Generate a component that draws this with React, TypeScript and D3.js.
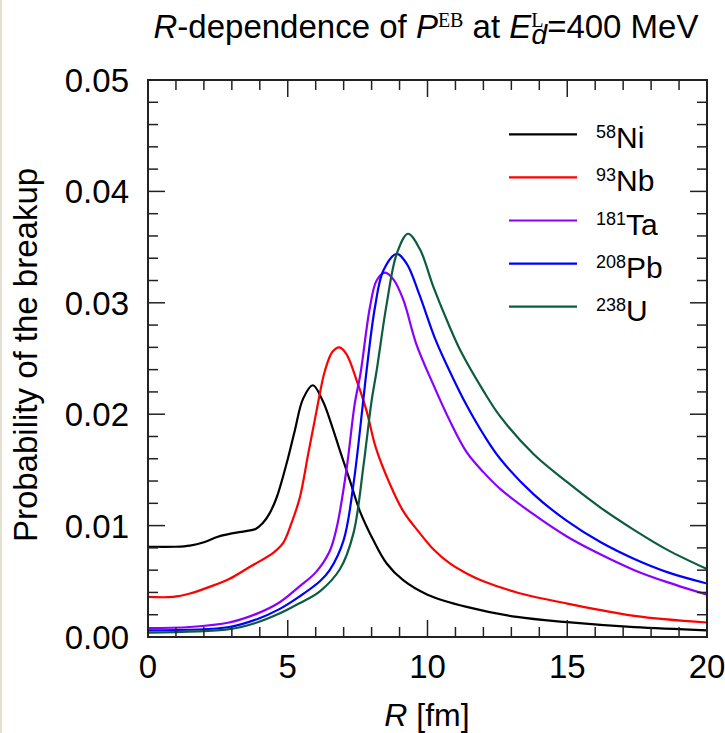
import React from 'react';
import * as d3 from 'd3';

const W = 725;
const H = 733;
const PLOT = { left: 148, right: 707, top: 80, bottom: 637 };

// ---- data ----
const rNi = [0, 1, 1.5, 2, 2.5, 3.0, 3.5, 3.85, 4.1, 4.35, 4.6, 4.95, 5.25, 5.55, 5.9, 6.25, 6.6, 6.87, 7.23, 7.58, 8.06, 8.54, 9.13, 10.0, 11.4, 13.2, 15, 17.4, 20];
const pNi = [0.0081, 0.0081, 0.0082, 0.0085, 0.0090, 0.0093, 0.0095, 0.0097, 0.0102, 0.0111, 0.0125, 0.0155, 0.0185, 0.0214, 0.0226, 0.0212, 0.0188, 0.0167, 0.0140, 0.0113, 0.0087, 0.0066, 0.0051, 0.0038, 0.0027, 0.0018, 0.00133, 0.00088, 0.0006];

const rNb = [0, 0.9, 1.5, 2.2, 2.9, 3.65, 4.5, 4.85, 5.13, 5.43, 5.73, 6.03, 6.33, 6.6, 6.85, 7.1, 7.47, 7.82, 8.15, 8.66, 9.13, 9.73, 10.2, 10.8, 11.4, 12, 13.2, 15, 17.4, 20];
const pNb = [0.0036, 0.0036, 0.0039, 0.0045, 0.0052, 0.0063, 0.0076, 0.0085, 0.0102, 0.0125, 0.0164, 0.0203, 0.0239, 0.0256, 0.0260, 0.0254, 0.0230, 0.0203, 0.0170, 0.0137, 0.0113, 0.0093, 0.0079, 0.0066, 0.0057, 0.0050, 0.0040, 0.0030, 0.0019, 0.0013];

const rTa = [0, 1.5, 2.9, 3.9, 4.7, 5.4, 6.0, 6.5, 6.75, 7.1, 7.4, 7.6, 7.94, 8.18, 8.48, 8.78, 9.13, 9.6, 10.2, 10.8, 11.4, 12.0, 12.6, 13.8, 15, 16.2, 17.4, 18.6, 20];
const pTa = [0.0008, 0.0009, 0.0013, 0.0021, 0.0031, 0.0045, 0.0058, 0.0077, 0.0098, 0.0150, 0.0210, 0.0236, 0.0296, 0.0320, 0.0327, 0.0321, 0.0303, 0.0263, 0.0227, 0.0194, 0.0166, 0.0148, 0.0133, 0.0110, 0.0090, 0.0074, 0.0060, 0.0049, 0.0038];

const rPb = [0, 2.9, 3.9, 4.7, 5.4, 6.15, 6.5, 7.0, 7.35, 7.7, 7.82, 8.12, 8.42, 8.9, 9.26, 9.7, 10.3, 10.9, 11.4, 12.0, 12.6, 13.8, 15, 16.2, 17.4, 18.6, 20];
const pPb = [0.0006, 0.0009, 0.0016, 0.0025, 0.0036, 0.0050, 0.0060, 0.0087, 0.0137, 0.0212, 0.0239, 0.0296, 0.0329, 0.0344, 0.0335, 0.0308, 0.0266, 0.0233, 0.0208, 0.0182, 0.0160, 0.0128, 0.0104, 0.0085, 0.0070, 0.0058, 0.0048];

const rU = [0, 2.9, 3.9, 4.7, 5.4, 6.15, 6.87, 7.35, 7.7, 7.82, 8.0, 8.18, 8.54, 8.9, 9.3, 9.73, 10.2, 10.75, 11.2, 12, 12.6, 13.8, 15, 16.2, 17.4, 18.6, 20];
const pU = [0.0004, 0.0007, 0.0013, 0.0021, 0.0030, 0.0041, 0.0061, 0.0093, 0.0152, 0.0176, 0.0212, 0.0239, 0.0299, 0.0344, 0.0362, 0.0348, 0.0315, 0.0281, 0.0256, 0.0221, 0.0198, 0.0164, 0.0139, 0.0116, 0.0096, 0.0078, 0.0061];

const massNumbers = ['58', '93', '181', '208', '238'];
const elements = ['Ni', 'Nb', 'Ta', 'Pb', 'U'];
const colors = ['#000000', '#ff0000', '#8a00ff', '#0000ff', '#0d5c3f'];
const seriesR = [rNi, rNb, rTa, rPb, rU];
const seriesP = [pNi, pNb, pTa, pPb, pU];

const xMajorTicks = [0, 5, 10, 15, 20];
const xTickLabels = ['0', '5', '10', '15', '20'];
const yMajorTicks = [0, 0.01, 0.02, 0.03, 0.04, 0.05];
const yTickLabels = ['0.00', '0.01', '0.02', '0.03', '0.04', '0.05'];

const FONT = '"Liberation Sans", Arial, Helvetica, sans-serif';
const SERIF = '"Liberation Serif", "Times New Roman", serif';

export default function App() {
  const x = d3.scaleLinear().domain([0, 20]).range([PLOT.left, PLOT.right]);
  const y = d3.scaleLinear().domain([0, 0.05]).range([PLOT.bottom, PLOT.top]);

  const xMinor = d3.range(0, 21, 1);
  const yMinor = d3.range(0, 0.0501, 0.002);

  const line = d3
    .line<[number, number]>()
    .x((d) => x(d[0]))
    .y((d) => y(d[1]))
    .curve(d3.curveCatmullRom.alpha(0.5));

  const MAJ = 17;
  const MIN = 10;
  const axisColor = '#222';

  const legendY0 = 134.3;
  const legendDY = 43.1;

  return (
    <svg
      width={W}
      height={H}
      viewBox={`0 0 ${W} ${H}`}
      style={{ position: 'absolute', left: 0, top: 0, background: '#fff' }}
      fontFamily={FONT}
    >
      <rect x={0} y={0} width={W} height={H} fill="#fff" />
      <rect x={0} y={0} width={2} height={H} fill="#e6e0d2" />

      {/* title */}
      <text x={426} y={38} textAnchor="middle" fontSize={33} fill="#000">
        <tspan fontStyle="italic">R</tspan>
        <tspan>-dependence of </tspan>
        <tspan fontStyle="italic">P</tspan>
        <tspan fontFamily={SERIF} fontSize={20} dy={-11}>EB</tspan>
        <tspan dy={11}> at </tspan>
        <tspan fontStyle="italic">E</tspan>
        <tspan fontFamily={SERIF} fontSize={20} dy={-11}>L</tspan>
        <tspan fontStyle="italic" fontSize={28} dx={-12} dy={17}>d</tspan>
        <tspan dy={-6}>=400 MeV</tspan>
      </text>

      {/* curves */}
      <defs>
        <clipPath id="clip">
          <rect x={PLOT.left} y={PLOT.top} width={PLOT.right - PLOT.left} height={PLOT.bottom - PLOT.top} />
        </clipPath>
      </defs>
      <g clipPath="url(#clip)">
        {seriesR.map((rs, i) => (
          <path
            key={elements[i]}
            d={line(rs.map((r, j) => [r, seriesP[i][j]] as [number, number])) || ''}
            fill="none"
            stroke={colors[i]}
            strokeWidth={2.2}
            strokeLinejoin="round"
          />
        ))}
      </g>

      {/* ticks */}
      <g stroke={axisColor} strokeWidth={1.5}>
        {xMinor.map((v) => {
          const len = v % 5 === 0 ? MAJ : MIN;
          return (
            <g key={'xt' + v}>
              <line x1={x(v)} x2={x(v)} y1={PLOT.bottom} y2={PLOT.bottom - len} />
              <line x1={x(v)} x2={x(v)} y1={PLOT.top} y2={PLOT.top + len} />
            </g>
          );
        })}
        {yMinor.map((v, i) => {
          const len = i % 5 === 0 ? MAJ : MIN;
          return (
            <g key={'yt' + i}>
              <line x1={PLOT.left} x2={PLOT.left + len} y1={y(v)} y2={y(v)} />
              <line x1={PLOT.right} x2={PLOT.right - len} y1={y(v)} y2={y(v)} />
            </g>
          );
        })}
      </g>

      {/* frame */}
      <rect
        x={PLOT.left}
        y={PLOT.top}
        width={PLOT.right - PLOT.left}
        height={PLOT.bottom - PLOT.top}
        fill="none"
        stroke={axisColor}
        strokeWidth={2}
      />

      {/* tick labels */}
      {xMajorTicks.map((v, i) => (
        <text key={'xl' + v} x={x(v)} y={678} textAnchor="middle" fontSize={33} fill="#000">
          {xTickLabels[i]}
        </text>
      ))}
      {yMajorTicks.map((v, i) => (
        <text key={'yl' + v} x={129} y={y(v) + 12} textAnchor="end" fontSize={33} fill="#000">
          {yTickLabels[i]}
        </text>
      ))}

      {/* axis titles */}
      <text x={427} y={726} textAnchor="middle" fontSize={32} fill="#000">
        <tspan fontStyle="italic">R</tspan>
        <tspan> [fm]</tspan>
      </text>
      <text
        transform={`translate(37, 355) rotate(-90)`}
        textAnchor="middle"
        fontSize={33}
        fill="#000"
      >
        Probability of the breakup
      </text>

      {/* legend */}
      {elements.map((el, i) => {
        const ly = legendY0 + i * legendDY;
        return (
          <g key={'lg' + el}>
            <line x1={509} x2={577} y1={ly} y2={ly} stroke={colors[i]} strokeWidth={2.2} />
            <text x={596} y={ly + 14} fontSize={30} fill="#000">
              <tspan fontSize={18} dy={-10}>{massNumbers[i]}</tspan>
              <tspan dy={10}>{el}</tspan>
            </text>
          </g>
        );
      })}
    </svg>
  );
}
